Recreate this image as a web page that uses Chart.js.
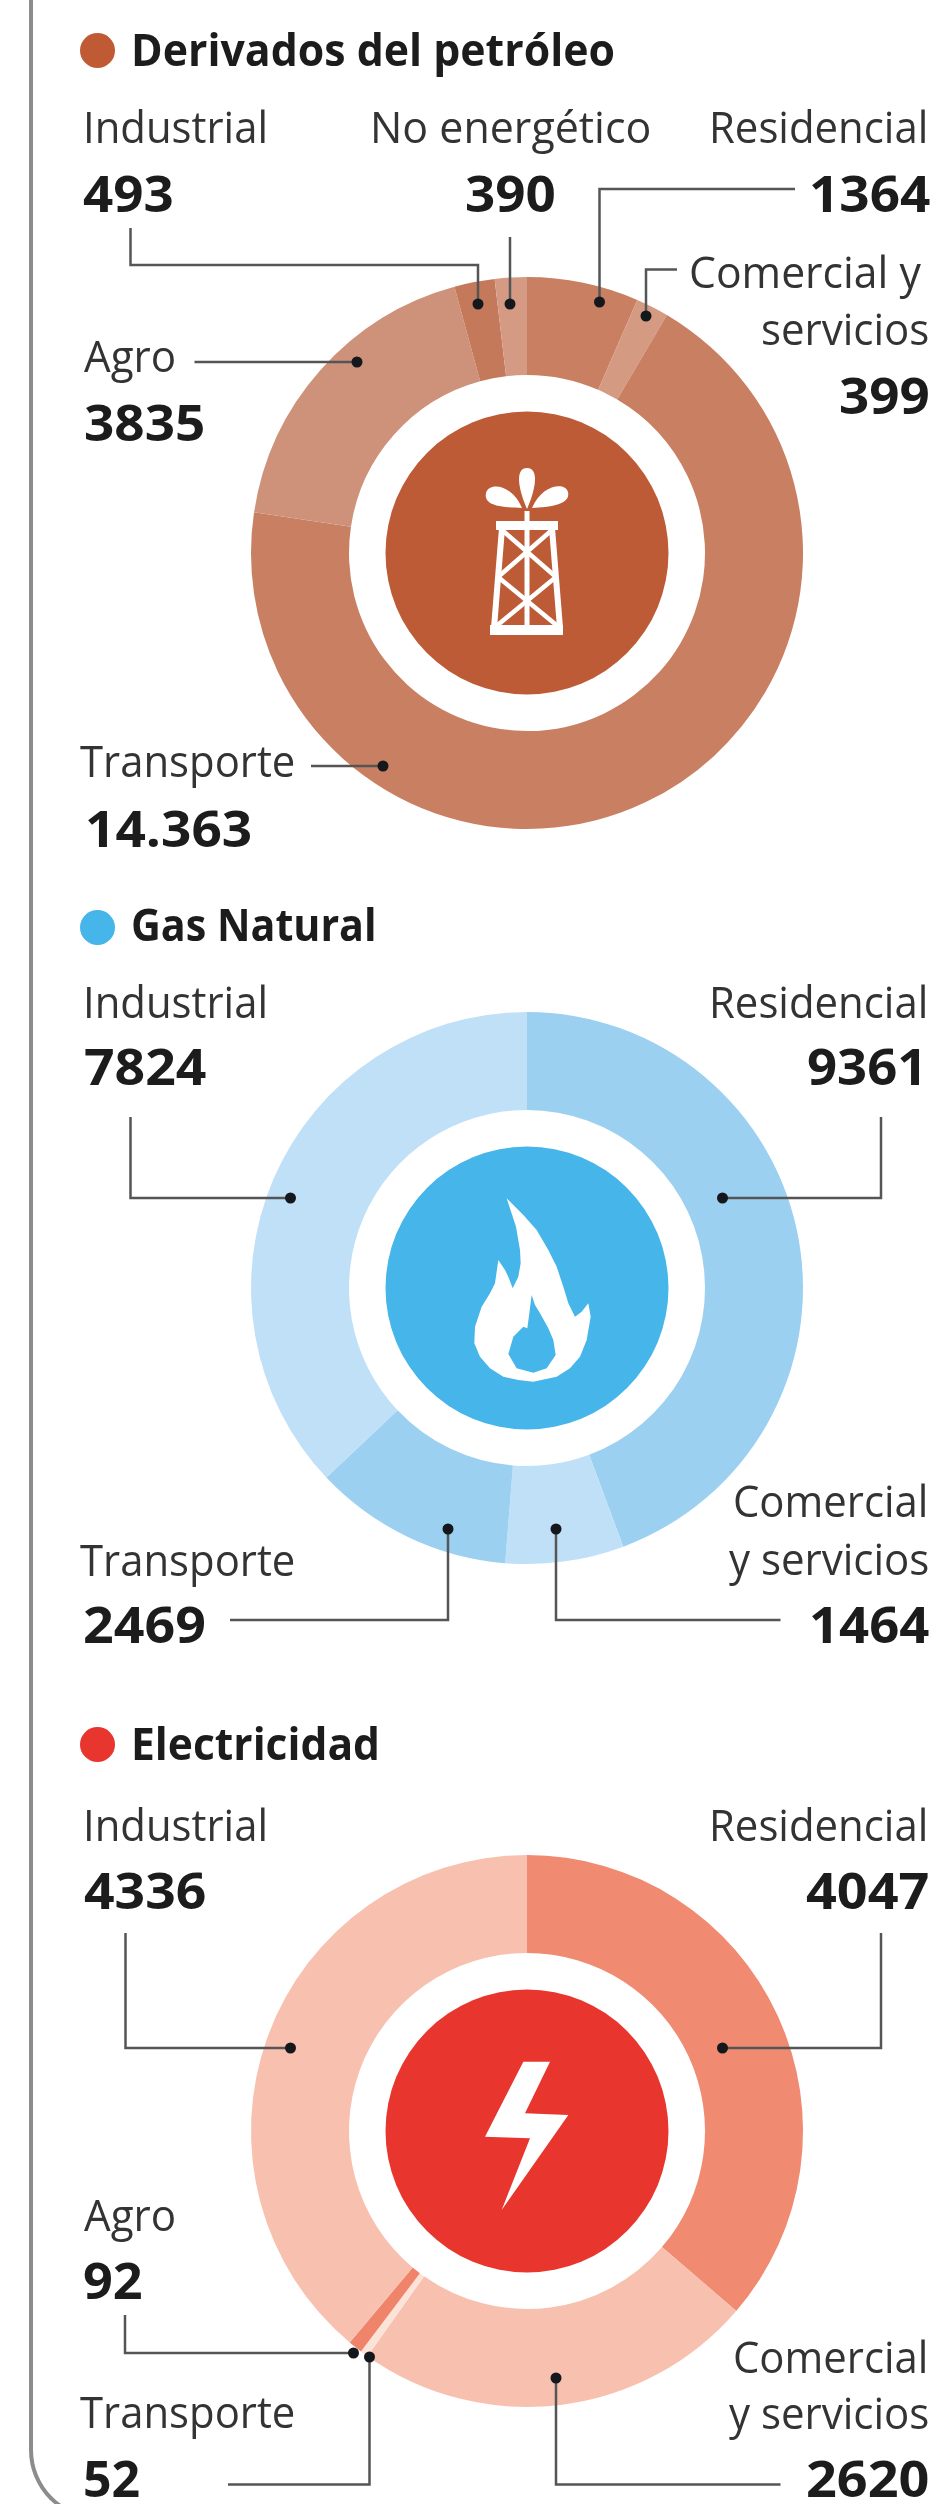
<!DOCTYPE html>
<html lang="es">
<head>
<meta charset="utf-8">
<title>Consumo de energía por sector</title>
<script src="https://cdn.jsdelivr.net/npm/chart.js@4"></script>
<style>
	html, body { margin: 0; padding: 0; background: #fff; }
	#page { position: relative; width: 938px; height: 2504px; overflow: hidden; background: #fff; }
	#frame { position: absolute; left: 29px; top: -20px; width: 300px; height: 2540px; box-sizing: border-box;
		border-left: 4px solid #8c8c8c; border-bottom: 4px solid #8c8c8c; border-bottom-left-radius: 70px; }
	canvas { position: absolute; left: 0; }
	.label { position: absolute; white-space: nowrap; line-height: 1; font-family: "Open Sans", sans-serif; transform-origin: 0 50%; }
	.dot { position: absolute; width: 35px; height: 35px; border-radius: 50%; }
</style>
</head>
<body>
<div id="page"><div id="frame"></div></div>
<script>
// values, clockwise from 12 o'clock
const petroleoCategories = ['Residencial', 'Comercial y servicios', 'Transporte', 'Agro', 'Industrial', 'No energético'];
const petroleoValues = [1364, 399, 14363, 3835, 493, 390];

const gasCategories = ['Residencial', 'Comercial y servicios', 'Transporte', 'Industrial'];
const gasValues = [9361, 1464, 2469, 7824];

const electricidadCategories = ['Residencial', 'Comercial y servicios', 'Transporte', 'Agro', 'Industrial'];
const electricidadValues = [4047, 2620, 52, 92, 4336];

const flameOuter = [[200,55],[250,105],[290,150],[325,210],[350,260],[370,320],[385,370],[405,410],[425,395],[445,370],[452,410],[440,480],[420,530],[390,565],[350,590],[280,605],[235,600],[190,590],[150,565],[120,530],[103,490],[105,440],[125,380],[150,340],[165,310],[175,240],[195,270],[205,290],[218,325],[235,290],[242,250],[240,210],[228,140]];
const flameInner = [[275,345],[285,375],[300,400],[325,445],[340,480],[347,525],[320,565],[280,578],[230,565],[205,522],[220,470],[240,450],[250,440],[262,445],[268,400]];
const boltShape = [[250,95],[330,95],[255,250],[385,255],[185,540],[270,325],[135,320]];

const drawShape = function (ctx, pts, ox, oy) {
	ctx.beginPath();
	pts.forEach((p, i) => {
		if (i === 0) ctx.moveTo(ox + p[0] / 3, oy + p[1] / 3);
		else ctx.lineTo(ox + p[0] / 3, oy + p[1] / 3);
	});
	ctx.closePath();
	ctx.fill();
};

const drawTower = function (ctx, x, y) {
	const seg = (x1, y1, x2, y2, w) => {
		ctx.lineWidth = w;
		ctx.beginPath();
		ctx.moveTo(x + x1, y + y1);
		ctx.lineTo(x + x2, y + y2);
		ctx.stroke();
	};
	ctx.fillStyle = '#fff';
	ctx.strokeStyle = '#fff';
	ctx.lineCap = 'butt';
	ctx.fillRect(x - 31, y - 32, 62, 9);
	ctx.fillRect(x - 37, y + 72, 73, 10);
	seg(-25, -25, -33, 75, 6);
	seg(25, -25, 33, 75, 6);
	seg(0, -42, 0, 75, 5);
	seg(-25, -23, 29, 24, 4.5);
	seg(25, -23, -29, 24, 4.5);
	seg(-29, 24, 33, 75, 4.5);
	seg(29, 24, -33, 75, 4.5);
	// the three drops
	ctx.beginPath();
	ctx.moveTo(x, y - 44);
	ctx.bezierCurveTo(x - 8, y - 62, x - 13, y - 85, x, y - 85);
	ctx.bezierCurveTo(x + 13, y - 85, x + 8, y - 62, x, y - 44);
	ctx.fill();
	ctx.beginPath();
	ctx.moveTo(x - 5, y - 45);
	ctx.bezierCurveTo(x - 22, y - 46, x - 44, y - 46, x - 41, y - 60);
	ctx.bezierCurveTo(x - 38, y - 72, x - 14, y - 68, x - 5, y - 45);
	ctx.fill();
	ctx.beginPath();
	ctx.moveTo(x + 5, y - 45);
	ctx.bezierCurveTo(x + 22, y - 46, x + 44, y - 48, x + 41, y - 61);
	ctx.bezierCurveTo(x + 38, y - 72, x + 14, y - 68, x + 5, y - 45);
	ctx.fill();
};

const icons = {
	tower: (ctx, x, y) => drawTower(ctx, x, y),
	flame: (ctx, x, y, color) => {
		ctx.fillStyle = '#fff';
		drawShape(ctx, flameOuter, x - 87, y - 108);
		ctx.fillStyle = color;
		drawShape(ctx, flameInner, x - 87, y - 108);
	},
	bolt: (ctx, x, y) => {
		ctx.fillStyle = '#fff';
		drawShape(ctx, boltShape, x - 87, y - 101);
	},
};

// centre disc, icon, and leader lines with their end dots
const decorPlugin = {
	id: 'decor',
	afterDraw(chart, args, opts) {
		const ctx = chart.ctx;
		const arc = chart.getDatasetMeta(0).data[0];
		ctx.save();
		ctx.fillStyle = opts.color;
		ctx.beginPath();
		ctx.arc(arc.x, arc.y, 141.5, 0, Math.PI * 2);
		ctx.fill();
		icons[opts.icon](ctx, arc.x, arc.y, opts.color);

		ctx.strokeStyle = '#555';
		ctx.lineWidth = 2.5;
		ctx.lineCap = 'butt';
		ctx.lineJoin = 'miter';
		opts.leaders.forEach((pts) => {
			ctx.beginPath();
			pts.forEach((p, i) => {
				if (i === 0) ctx.moveTo(p[0], p[1] - opts.top);
				else ctx.lineTo(p[0], p[1] - opts.top);
			});
			ctx.stroke();
			const end = pts[pts.length - 1];
			ctx.fillStyle = '#14181c';
			ctx.beginPath();
			ctx.arc(end[0], end[1] - opts.top, 5.5, 0, Math.PI * 2);
			ctx.fill();
		});
		ctx.restore();
	},
};

const sections = [
	{
		top: 0, height: 880, cy: 553, color: '#bd5b37', icon: 'tower',
		categories: petroleoCategories, values: petroleoValues,
		colors: ['#c97f62', '#d59a82', '#c97f62', '#ce927b', '#c47a5a', '#d59a84'],
		leaders: [
			[[130.5, 228], [130.5, 265], [478, 265], [478, 304]],
			[[510, 237], [510, 304]],
			[[795, 189], [599.5, 189], [599.5, 302]],
			[[677, 269.5], [646, 269.5], [646, 316]],
			[[194.5, 362], [357, 362]],
			[[311, 766], [383, 766]],
		],
	},
	{
		top: 880, height: 820, cy: 1288, color: '#45b5ea', icon: 'flame',
		categories: gasCategories, values: gasValues,
		colors: ['#9bd0f1', '#bfe0f7', '#9bd0f1', '#bfe0f7'],
		leaders: [
			[[130.5, 1117], [130.5, 1198], [290.5, 1198]],
			[[881, 1117], [881, 1198], [722.5, 1198]],
			[[230, 1620], [448, 1620], [448, 1529]],
			[[780.5, 1620], [556, 1620], [556, 1529]],
		],
	},
	{
		top: 1700, height: 804, cy: 2131, color: '#e8352e', icon: 'bolt',
		categories: electricidadCategories, values: electricidadValues,
		colors: ['#f08a70', '#f8c1af', '#fbe3d8', '#f0846a', '#f8c1af'],
		leaders: [
			[[125.5, 1933], [125.5, 2048], [290.5, 2048]],
			[[881, 1933], [881, 2048], [722.5, 2048]],
			[[125, 2315], [125, 2353], [353.5, 2353]],
			[[228, 2484.5], [369.5, 2484.5], [369.5, 2357]],
			[[780.5, 2484.5], [556, 2484.5], [556, 2378]],
		],
	},
];

const titles = [
	['Derivados del petróleo', 130.5, 615, 66, '#c05a35', 33],
	['Gas Natural', 130.5, 376, 941.5, '#45b5ea', 909.5],
	['Electricidad', 130.5, 380, 1760.5, '#e8352e', 1727],
];

// text, left, right, baseline, bold
const labels = [
	['Industrial', 82.5, 267, 143, 0],
	['No energético', 370, 651, 143, 0],
	['Residencial', 709, 928, 143, 0],
	['493', 82.5, 173.5, 212, 1],
	['390', 465, 556, 212, 1],
	['1364', 809, 930, 212, 1],
	['Comercial y', 689, 921, 288.5, 0],
	['servicios', 761, 929, 345, 0],
	['399', 839, 930, 414, 1],
	['Agro', 84, 176, 372, 0],
	['3835', 84, 205, 441, 1],
	['Transporte', 80, 295, 777, 0],
	['14.363', 85, 252, 847, 1],

	['Industrial', 82.5, 267, 1018, 0],
	['Residencial', 709, 928, 1018, 0],
	['7824', 84, 206, 1085, 1],
	['9361', 807, 927, 1085, 1],
	['Comercial', 733, 928, 1517, 0],
	['y servicios', 728.5, 929, 1575, 0],
	['Transporte', 80, 295, 1576, 0],
	['2469', 82.5, 205, 1643, 1],
	['1464', 809, 929, 1643, 1],

	['Industrial', 82.5, 267, 1841, 0],
	['Residencial', 709, 928, 1841, 0],
	['4336', 84, 206, 1909, 1],
	['4047', 806, 929, 1909, 1],
	['Agro', 84, 176, 2231, 0],
	['92', 82.5, 142, 2299, 1],
	['Transporte', 80, 295, 2428, 0],
	['52', 83, 140, 2497, 1],
	['Comercial', 733, 928, 2373, 0],
	['y servicios', 728.5, 929, 2429, 0],
	['2620', 806, 929, 2497, 1],
];

const page = document.getElementById('page');

const addText = function (text, x0, x1, baseline, size, weight, color) {
	const el = document.createElement('div');
	el.className = 'label';
	el.textContent = text;
	el.style.fontSize = size + 'px';
	el.style.fontWeight = weight;
	el.style.color = color;
	el.style.left = x0 + 'px';
	// Open Sans baseline sits 0.888em below the top at line-height 1
	el.style.top = (baseline - size * 0.888) + 'px';
	page.appendChild(el);
	el.style.transform = `scaleX(${ (x1 - x0) / el.offsetWidth })`;
};

sections.forEach((s) => {
	const canvas = document.createElement('canvas');
	canvas.width = 938;
	canvas.height = s.height;
	canvas.style.top = s.top + 'px';
	canvas.style.width = '938px';
	canvas.style.height = s.height + 'px';
	page.appendChild(canvas);

	const localCy = s.cy - s.top;
	new Chart(canvas.getContext('2d'), {
		type: 'doughnut',
		data: {
			labels: s.categories,
			datasets: [{
				data: s.values,
				backgroundColor: s.colors,
				borderWidth: 0,
			}],
		},
		options: {
			responsive: false,
			animation: false,
			events: [],
			cutout: 178,
			layout: { padding: { left: 251, right: 135, top: localCy - 276, bottom: s.height - localCy - 276 } },
			plugins: {
				legend: { display: false },
				tooltip: { enabled: false },
				decor: { color: s.color, icon: s.icon, leaders: s.leaders, top: s.top },
			},
		},
		plugins: [decorPlugin],
	});
});

titles.forEach((t) => {
	const dot = document.createElement('div');
	dot.className = 'dot';
	dot.style.left = '80px';
	dot.style.top = t[5] + 'px';
	dot.style.background = t[4];
	page.appendChild(dot);
	addText(t[0], t[1], t[2], t[3], 44, 700, '#1c1c1c');
});

labels.forEach((l) => {
	addText(l[0], l[1], l[2], l[3], l[4] ? 50 : 44, l[4] ? 700 : 400, l[4] ? '#1c1c1c' : '#333');
});
</script>
</body>
</html>
